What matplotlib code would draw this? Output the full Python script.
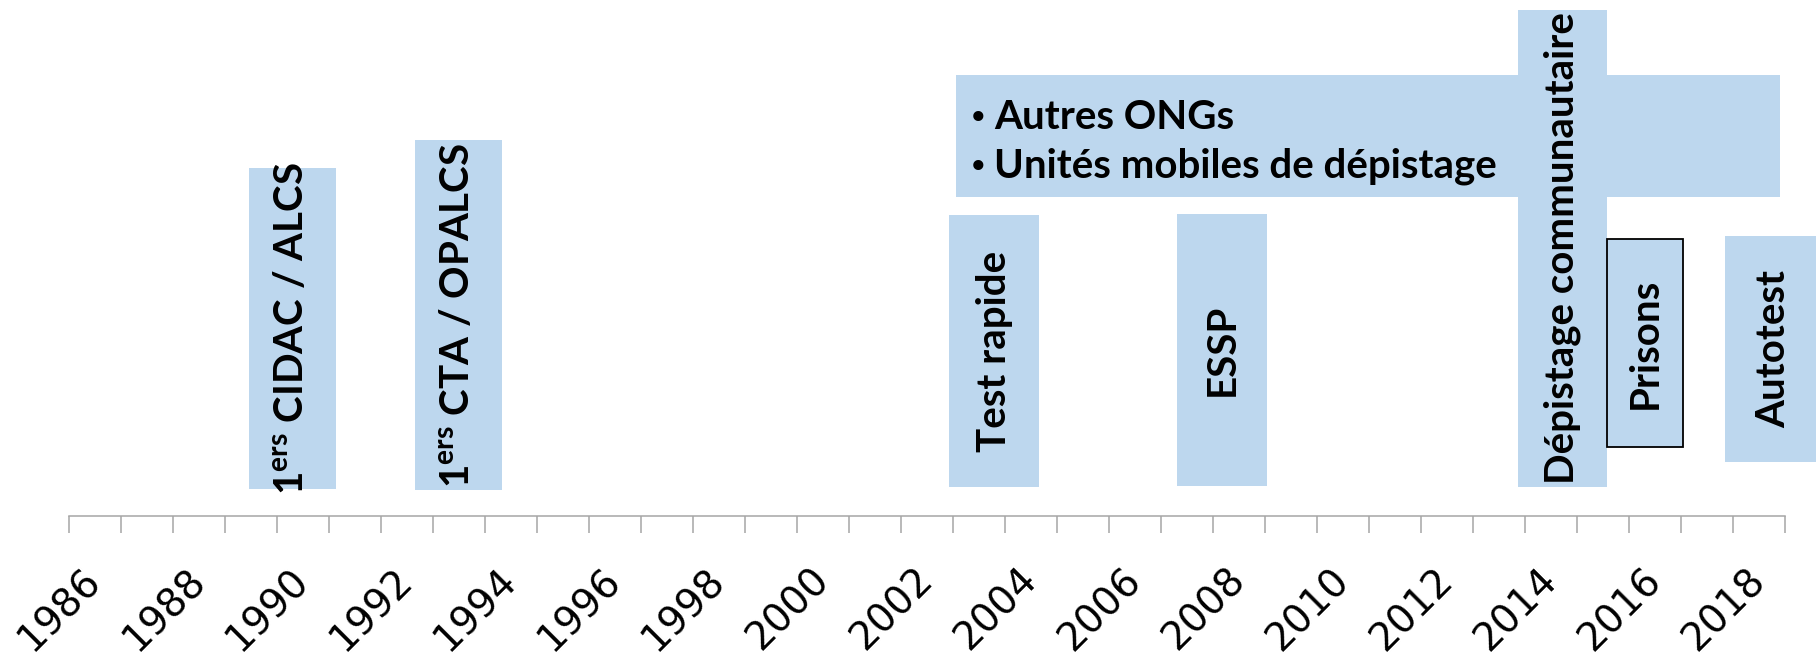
import matplotlib
matplotlib.use("Agg")
import matplotlib.pyplot as plt
import numpy as np

# timeline boxes: start year, end year, bottom, top (height units above the axis)
labels = [
    r"1$^{\mathbf{ers}}$ CIDAC / ALCS",
    r"1$^{\mathbf{ers}}$ CTA / OPALCS",
    "Test rapide",
    "ESSP",
    ["Autres ONGs", "Unités mobiles de dépistage"],
    "Dépistage communautaire",
    "Prisons",
    "Autotest",
]
starts = [1989.45, 1992.65, 2002.92, 2007.30, 2003.05, 2013.86, 2015.57, 2017.84]
ends = [1991.13, 1994.32, 2004.65, 2009.03, 2018.90, 2015.58, 2017.03, 2019.70]
bottoms = [2.7, 2.6, 2.9, 3.0, 31.9, 2.9, 6.9, 5.4]
tops = [34.8, 37.6, 30.1, 30.2, 44.1, 50.6, 27.7, 28.0]
outlined = [False, False, False, False, False, False, True, False]

tick_years = np.arange(1986, 2020)
label_years = np.arange(1986, 2019, 2)

box_color = "#bdd7ee"
axis_color = "#a6a6a6"

plt.rcParams["mathtext.fontset"] = "custom"
plt.rcParams["mathtext.rm"] = "Lato"
plt.rcParams["mathtext.bf"] = "Lato:bold"

fig = plt.figure(figsize=(18.16, 6.63), dpi=100)
ax = fig.add_axes([0, 0, 1, 1])
ax.set_xlim(1986 - 69.3 / 52, 1986 + (1816 - 69.3) / 52)
ax.set_ylim(-14.7, 51.6)

for i in range(len(labels)):
    w = ends[i] - starts[i]
    h = tops[i] - bottoms[i]
    ax.bar(starts[i], h, width=w, bottom=bottoms[i], align="edge",
           color=box_color,
           edgecolor="black" if outlined[i] else "none",
           linewidth=1.3 if outlined[i] else 0, zorder=2 + i * 0.1)
    if isinstance(labels[i], list):
        # bulleted list, one line per item
        base = tops[i] - 5.4
        for item in labels[i]:
            ax.text(starts[i] + 0.42, base, "•", ha="center", va="baseline",
                    fontsize=25, fontfamily="DejaVu Sans", zorder=5)
            ax.text(starts[i] + 0.74, base, item, ha="left", va="baseline",
                    fontsize=29, fontfamily="Lato", fontweight="bold", zorder=5)
            base -= 4.85
    else:
        ax.text((starts[i] + ends[i]) / 2, (bottoms[i] + tops[i]) / 2, labels[i],
                rotation=90, ha="center", va="center", fontsize=29,
                fontfamily="Lato", fontweight="bold", zorder=5)

for side in ["left", "right", "top"]:
    ax.spines[side].set_visible(False)
ax.spines["bottom"].set_position(("data", 0))
ax.spines["bottom"].set_color(axis_color)
ax.spines["bottom"].set_linewidth(1.1)
ax.spines["bottom"].set_bounds(tick_years[0], tick_years[-1])

ax.set_yticks([])
ax.set_xticks(tick_years)
ax.set_xticklabels([])
ax.tick_params(axis="x", which="major", direction="out", length=12,
               width=1.1, color=axis_color)
ax.set_xticks(label_years + 0.5, [str(y) for y in label_years], minor=True)
ax.tick_params(axis="x", which="minor", length=0, pad=42, labelsize=28)
for t in ax.get_xticklabels(minor=True):
    t.set_rotation(45)
    t.set_ha("right")
    t.set_va("center")
    t.set_rotation_mode("anchor")
    t.set_fontfamily("DejaVu Sans")

fig.savefig("out.png", dpi=100)
